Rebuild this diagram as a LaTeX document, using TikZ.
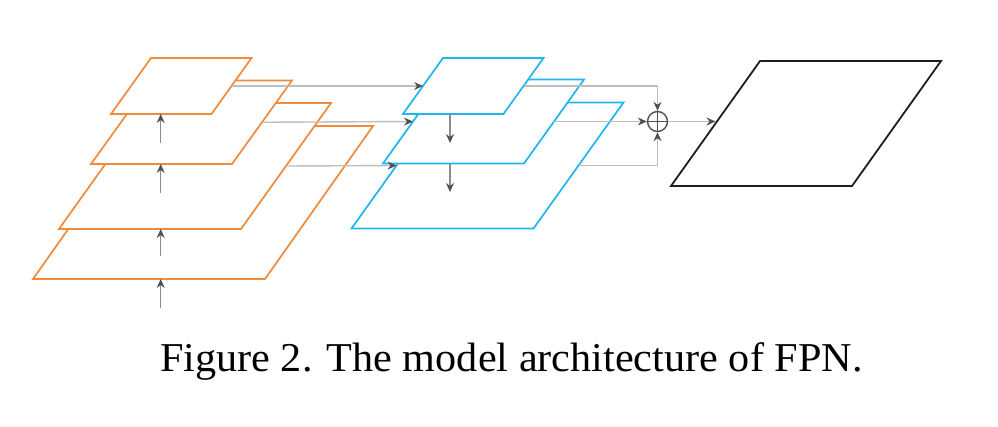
\documentclass[tikz,border=0pt]{standalone}
\usepackage{graphicx}
\usepackage{fontspec}
\setmainfont{Liberation Serif}
\usetikzlibrary{arrows.meta}
\definecolor{lorange}{RGB}{240,138,60}
\definecolor{lblue}{RGB}{30,182,240}
\definecolor{lgray}{RGB}{190,190,190}
\definecolor{mgray}{RGB}{140,140,140}
\definecolor{tipgray}{RGB}{80,80,80}
\definecolor{kblack}{RGB}{30,30,30}
% name, x, y (bottom-left), width, height, slant, style
\newcommand\fpnlayer[7]{%
  \draw[#7] (#2,#3) -- ++(#4,0) -- ++(#6,-#5) -- ++(-#4,0) -- cycle;
  \coordinate (#1-l) at ({#2+#6/2},{#3-#5/2});
  \coordinate (#1-r) at ({#2+#4+#6/2},{#3-#5/2});
}
\tikzset{
  orangelayer/.style={draw=lorange, line width=1.7pt, fill=white},
  bluelayer/.style={draw=lblue, line width=1.7pt, fill=white},
  blacklayer/.style={draw=kblack, line width=1.8pt, fill=white},
  tipstyle/.style={-{Stealth[length=9pt,width=8pt,inset=3pt,color=tipgray]}},
  conn/.style={draw=lgray, line width=1.4pt, tipstyle},
  vconn/.style={draw=mgray, line width=1.2pt, tipstyle},
}
\begin{document}
\begin{tikzpicture}[x=1pt,y=-1pt]
\useasboundingbox (0,0) rectangle (998,426);
% bottom-up pathway (orange)
\fpnlayer{P4}{33}{279}{232}{153}{108}{orangelayer}
\fpnlayer{P3}{59}{229}{182}{126}{90}{orangelayer}
\fpnlayer{P2}{91}{164}{141}{83.5}{60}{orangelayer}
\fpnlayer{P1}{111}{114}{100.5}{56}{40}{orangelayer}
% top-down pathway (blue)
\fpnlayer{B3}{351.5}{228.5}{182}{126}{90}{bluelayer}
\fpnlayer{B2}{383}{163.5}{141}{84}{60}{bluelayer}
\fpnlayer{B1}{403}{114}{100.5}{56}{40}{bluelayer}
% output (black)
\fpnlayer{K}{671}{186}{181}{125}{89}{blacklayer}
% up arrows
\coordinate (u0s) at (160.7,308); \coordinate (u0e) at (160.7,279);
\coordinate (u1s) at (160.7,256); \coordinate (u1e) at (160.7,229);
\coordinate (u2s) at (160.7,193); \coordinate (u2e) at (160.7,164);
\coordinate (u3s) at (160.7,143); \coordinate (u3e) at (160.7,114);
\draw[vconn] (u0s) -- (u0e);
\draw[vconn] (u1s) -- (u1e);
\draw[vconn] (u2s) -- (u2e);
\draw[vconn] (u3s) -- (u3e);
% down arrows
\coordinate (d1s) at (450,114); \coordinate (d1e) at (450,143);
\coordinate (d2s) at (450,163.5); \coordinate (d2e) at (450,192);
\draw[vconn] (d1s) -- (d1e);
\draw[vconn] (d2s) -- (d2e);
% lateral connections
\draw[conn] (P1-r) -- (B1-l);
\draw[conn] (P2-r) -- (B2-l);
\draw[conn] (P3-r) -- (B3-l);
% sum node
\node[circle, draw=tipgray, line width=1.4pt, minimum size=20pt, inner sep=0pt] (sum) at (657.5,121.5) {};
\draw[tipgray, line width=1.4pt] (sum.north) -- (sum.south) (sum.west) -- (sum.east);
\draw[conn] (B1-r) -| (sum.north);
\draw[conn] (B2-r) -- (B2-r -| sum.west);
\draw[conn] (B3-r) -| (sum.south);
\draw[conn] (sum.east) -- (sum.east -| K-l);
% caption
\node[anchor=base, font=\fontsize{41}{48}\selectfont, inner sep=0pt] (cap) at (511.4,371)
  {\scalebox{1.03}[1]{Figure 2. The model architecture of FPN.}};
\end{tikzpicture}
\end{document}
